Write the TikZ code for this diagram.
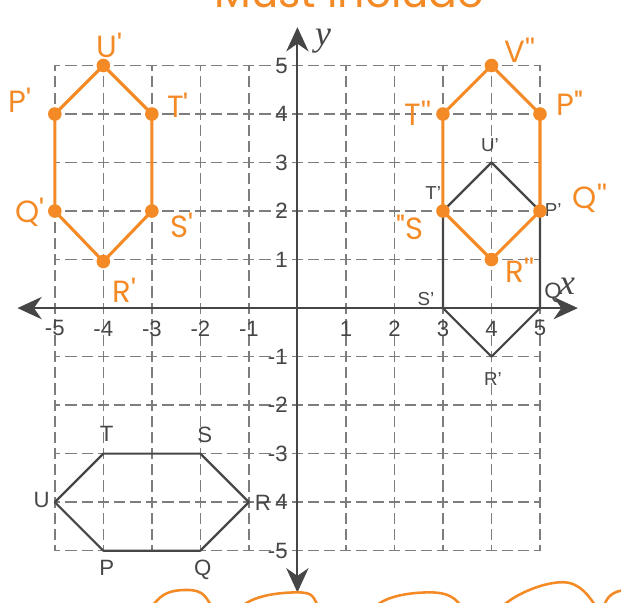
\documentclass[tikz,border=0pt]{standalone}
\usepackage{fontspec}
\setmainfont{Liberation Sans}
\newfontfamily\handfont{Poppins}
\newfontfamily\axisfont{Liberation Serif}
\usetikzlibrary{arrows.meta}

\definecolor{penorange}{RGB}{244,138,38}
\definecolor{inkgrey}{RGB}{70,70,70}
\definecolor{gridgrey}{RGB}{125,125,125}

\begin{document}
\begin{tikzpicture}[
    >={Stealth[length=5mm, width=4.6mm, inset=1.6mm]},
    gridline/.style={draw=gridgrey, line width=0.8pt, dash pattern=on 6.5pt off 2.98pt, dash phase=3.25pt},
    axis/.style={<->, draw=inkgrey, line width=1.1pt},
    hexline/.style={draw=inkgrey, line width=1.3pt, line join=round},
    penline/.style={draw=penorange, line width=1.8pt, line join=round, line cap=round},
    pendot/.style={circle, fill=penorange, inner sep=0pt, minimum size=2.8mm},
    ticklbl/.style={font=\fontsize{13}{15}\selectfont, text=inkgrey, inner sep=1pt},
    ptlbl/.style={font=\fontsize{13}{15}\selectfont, text=inkgrey, inner sep=1pt},
    primelbl/.style={font=\fontsize{11}{13}\selectfont, text=inkgrey, inner sep=1pt},
    handlbl/.style={font=\handfont\fontsize{18}{21}\selectfont, text=penorange, inner sep=1pt},
    axlbl/.style={font=\axisfont\itshape\fontsize{21}{23}\selectfont, text=inkgrey, inner sep=0pt}
]
\clip (-6.13,-6.06) rectangle (6.67,6.35);

% === Grid and axes ===
\foreach \i in {-5,...,5} {
  \draw[gridline] (\i,-5) -- (\i,5);
  \draw[gridline] (-5,\i) -- (5,\i);
}
\coordinate (xmin) at (-5.77,0);
\coordinate (xmax) at (5.78,0);
\coordinate (ymin) at (0,-5.86);
\coordinate (ymax) at (0,5.79);
\draw[axis] (xmin) -- (xmax);
\draw[axis] (ymin) -- (ymax);
\node[axlbl] (xlbl) at (5.56,0.45) {x};
\node[axlbl] (ylbl) at (0.53,5.5) {y};

% tick numbers
\foreach \i in {-5,...,-1,1,2,3,4,5}
  \node[ticklbl] (xt\i) at (\i,-0.42) {\i};
\foreach \i in {-5,-3,-2,-1,1,2,3,4,5}
  \node[ticklbl, anchor=east] (yt\i) at (-0.16,\i) {\i};
\node[ticklbl, anchor=east] (yt-4) at (-0.16,-4) {4};

% === Grey hexagon PQRSTU ===
\coordinate (pP) at (-4,-5);
\coordinate (pQ) at (-2,-5);
\coordinate (pR) at (-1,-4);
\coordinate (pS) at (-2,-3);
\coordinate (pT) at (-4,-3);
\coordinate (pU) at (-5,-4);
\draw[hexline] (pP) -- (pQ) -- (pR) -- (pS) -- (pT) -- (pU) -- cycle;
\node[ptlbl] (lP) at (-3.93,-5.36) {P};
\node[ptlbl] (lQ) at (-1.95,-5.40) {Q};
\node[ptlbl] (lR) at (-0.71,-4.02) {R};
\node[ptlbl] (lS) at (-1.91,-2.62) {S};
\node[ptlbl] (lT) at (-3.93,-2.60) {T};
\node[ptlbl] (lU) at (-5.27,-3.96) {U};

% === Grey hexagon P'Q'R'S'T'U' ===
\coordinate (qP) at (5,2);
\coordinate (qQ) at (5,0);
\coordinate (qR) at (4,-1);
\coordinate (qS) at (3,0);
\coordinate (qT) at (3,2);
\coordinate (qU) at (4,3);
\draw[hexline] (qP) -- (qQ) -- (qR) -- (qS) -- (qT) -- (qU) -- cycle;
\node[primelbl] (mP) at (5.27,2.02) {P'};
\node[ptlbl] (mQ) at (5.27,0.31) {Q};
\node[primelbl] (mR) at (4.03,-1.46) {R'};
\node[primelbl] (mS) at (2.65,0.18) {S'};
\node[primelbl] (mT) at (2.80,2.38) {T'};
\node[primelbl] (mU) at (3.97,3.36) {U'};

% === Orange hexagon, first image ===
\coordinate (aP) at (-5,4);
\coordinate (aU) at (-4,5);
\coordinate (aT) at (-3,4);
\coordinate (aS) at (-3,2);
\coordinate (aR) at (-4,0.96);
\coordinate (aQ) at (-5,2);
\draw[penline] (aP) -- (aU) -- (aT) -- (aS) -- (aR) -- (aQ) -- cycle;
\node[handlbl] (hU) at (-3.87,5.42) {U'};
\node[handlbl] (hP) at (-5.72,4.29) {P'};
\node[handlbl] (hT) at (-2.46,4.19) {T'};
\node[handlbl] (hQ) at (-5.52,1.98) {Q'};
\node[handlbl] (hS) at (-2.38,1.71) {S'};
\node[handlbl] (hR) at (-3.56,0.37) {R'};

% === Orange hexagon, second image ===
\coordinate (bT) at (3,4);
\coordinate (bV) at (4,5);
\coordinate (bP) at (5,4);
\coordinate (bQ) at (5,2);
\coordinate (bR) at (4,1);
\coordinate (bS) at (3,2);
\draw[penline] (bT) -- (bV) -- (bP) -- (bQ) -- (bR) -- (bS) -- cycle;
\node[handlbl] (kT) at (2.48,4.02) {T''};
\node[handlbl] (kV) at (4.59,5.32) {V''};
\node[handlbl] (kP) at (5.62,4.23) {P''};
\node[handlbl] (kQ) at (6.03,2.27) {Q''};
\node[handlbl] (kS) at (2.32,1.67) {''S};
\node[handlbl] (kR) at (4.59,0.78) {R''};

\foreach \v in {aP,aU,aT,aS,aR,aQ,bT,bV,bP,bQ,bR,bS}
  \node[pendot] (dot\v) at (\v) {};

% === Orange notes cut by the edges ===
\node[handlbl, font=\handfont\fontsize{25}{27}\selectfont, anchor=base west, inner sep=0pt, text depth=0pt] (note) at (-1.72,6.19) {Must include};
\foreach \a/\m/\h/\b in {-3.04/-2.28/-5.81/-1.74, -1.19/0/-5.86/0.46, 1.56/2.73/-5.86/3.41, 4.18/5.47/-5.65/6.18}
  \draw[penline, line width=1.5pt] (\a,-6.2) .. controls (\a+0.2,-5.95) and (\m-0.45,\h) .. (\m,\h)
        .. controls (\m+0.35,\h) and (\b-0.15,-5.95) .. (\b,-6.2);
\draw[penline, line width=1.5pt] (6.3,-6.2) .. controls (6.38,-5.92) and (6.5,-5.84) .. (6.8,-5.8);

\end{tikzpicture}
\end{document}
